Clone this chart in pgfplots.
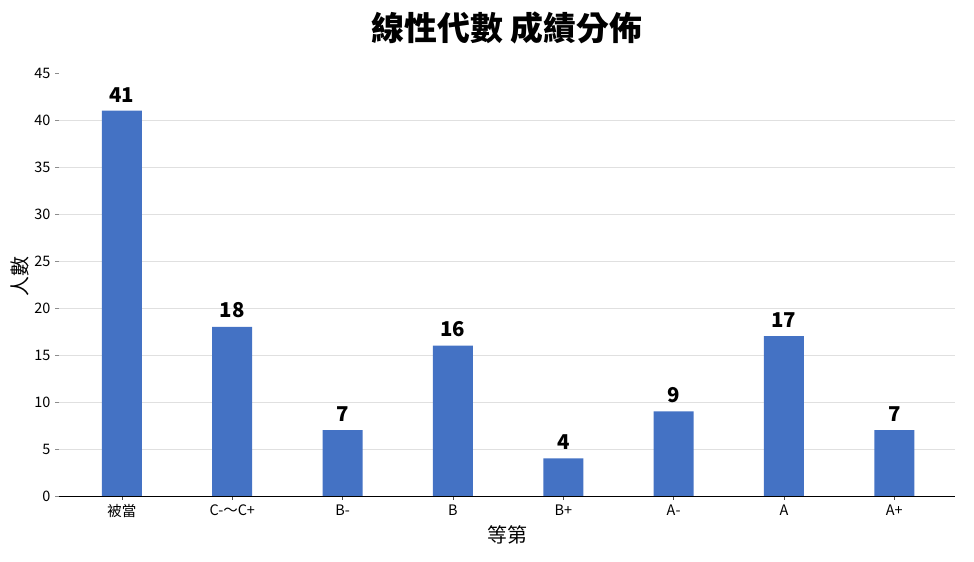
\documentclass[border=0pt]{standalone}
\usepackage{pgfplots}
\pgfplotsset{compat=1.18}
\usepackage{fontspec}
\setmainfont{Noto Sans CJK TC}
\definecolor{barblue}{HTML}{4472C4}
\begin{document}
\begin{tikzpicture}[x=1bp,y=1bp]
\useasboundingbox (0,0) rectangle (974,562);
\begin{axis}[
  at={(59bp,66bp)}, anchor=south west,
  scale only axis, width=896bp, height=423bp,
  xmin=-0.57, xmax=7.55, ymin=0, ymax=45,
  xtick={0,...,7},
  xticklabels={被當,C-～C+,B-,B,B+,A-,A,A+},
  ytick={0,5,...,40},
  extra y ticks={45},
  extra y tick style={grid=none},
  axis y line*=left, axis x line*=bottom,
  y axis line style={draw=none},
  x axis line style={black, line width=0.9pt, -},
  ymajorgrids, grid style={color=black!12, line width=0.6pt},
  tick align=outside,
  major tick length=4bp,
  ytick style={color=black!45, line width=0.6pt},
  xtick style={color=black!70, line width=0.6pt},
  ticklabel style={font=\fontsize{14.5}{16}\selectfont, text=black},
  /pgf/number format/assume math mode=true,
  yticklabel style={xshift=-1bp},
  xticklabel style={yshift=-1bp},
  ybar, bar width=40bp,
  nodes near coords,
  every node near coord/.append style={font=\fontsize{20.5}{24}\bfseries\selectfont, text=black, yshift=5bp},
  clip=false,
]
\addplot[fill=barblue, draw=none] coordinates {(0,41) (1,18) (2,7) (3,16) (4,4) (5,9) (6,17) (7,7)};
\end{axis}
\node[font=\fontsize{33}{38}\bfseries\selectfont] at (507,534) {線性代數 成績分佈};
\node[font=\fontsize{20}{24}\selectfont] at (507,27) {等第};
\node[font=\fontsize{20}{24}\selectfont, rotate=90] at (20,285) {人數};
\end{tikzpicture}
\end{document}
